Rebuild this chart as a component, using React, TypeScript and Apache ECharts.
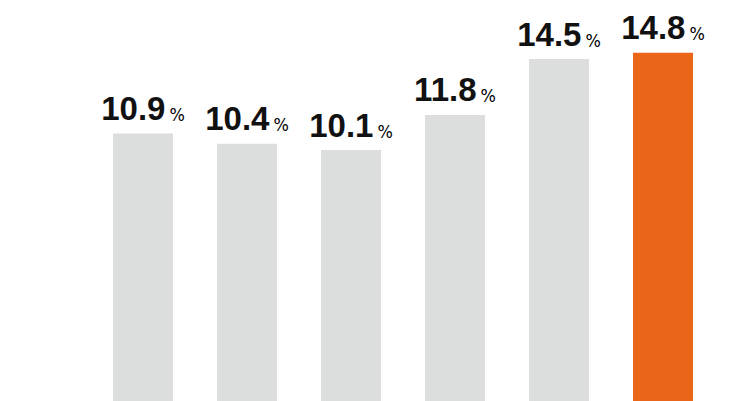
import React, { useEffect, useRef } from "react";
import * as echarts from "echarts";

const categories = ["A", "B", "C", "D", "E", "F"];
const values = [10.9, 10.4, 10.1, 11.8, 14.5, 14.8];
const highlightIndex = 5;
const axisMin = -2.03;
const axisMax = 16;

const GRAY = "#dcdddd";
const ORANGE = "#eb6519";

export default function App() {
  const ref = useRef<HTMLDivElement>(null);
  useEffect(() => {
    if (!ref.current) return;
    const chart = echarts.init(ref.current, null, { renderer: "svg" });
    const colorOf = (i: number) => (i === highlightIndex ? ORANGE : GRAY);
    chart.setOption({
      animation: false,
      grid: { left: 91, right: 21, top: 28, bottom: 0 },
      xAxis: {
        type: "category",
        data: categories,
        show: false,
      },
      yAxis: {
        type: "value",
        min: axisMin,
        max: axisMax,
        show: false,
        splitLine: { show: false },
      },
      series: [
        {
          type: "bar",
          stack: "s",
          barWidth: 60,
          data: categories.map((_, i) => ({
            value: axisMin,
            itemStyle: { color: colorOf(i) },
          })),
          silent: true,
        },
        {
          type: "bar",
          stack: "s",
          barWidth: 60,
          data: values.map((v, i) => ({
            value: v,
            itemStyle: { color: colorOf(i) },
          })),
          label: {
            show: true,
            position: "top",
            distance: 10,
            formatter: (p: any) => `{v|${p.value.toFixed(1)}}{p|%}`,
            rich: {
              v: {
                fontFamily: "Liberation Sans",
                fontWeight: "bold",
                fontSize: 33,
                color: "#111111",
                lineHeight: 30,
              },
              p: {
                fontFamily: "'Liberation Sans Narrow', 'DejaVu Sans Condensed', sans-serif",
                fontSize: 18,
                color: "#000000",
                padding: [0, 0, 0, 4],
                lineHeight: 30,
                verticalAlign: "bottom",
              },
            },
          },
        },
      ],
    });
    return () => chart.dispose();
  }, []);
  return (
    <div
      ref={ref}
      style={{ position: "absolute", left: 0, top: 0, width: 736, height: 401 }}
    />
  );
}
